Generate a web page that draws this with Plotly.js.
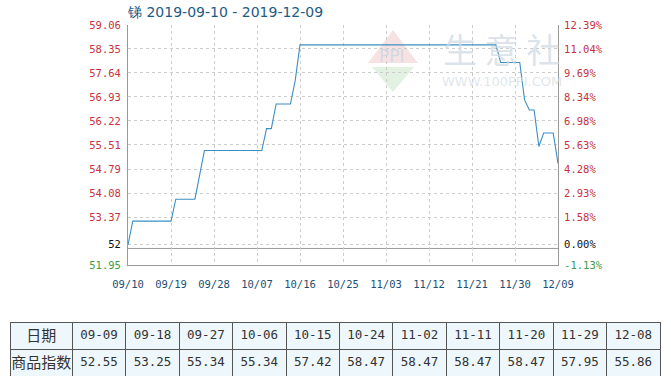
<!DOCTYPE html>
<html>
<head>
<meta charset="utf-8">
<script src="https://cdn.plot.ly/plotly-3.0.1.min.js"></script>
<style>html,body{margin:0;padding:0;background:#fff;}#chart{width:671px;height:385px;}</style>
</head>
<body>
<div id="chart"></div>
<script>
// ---- data ----
const dates = ['2019-09-10','2019-09-11','2019-09-19','2019-09-20','2019-09-24','2019-09-26','2019-10-08','2019-10-09','2019-10-10','2019-10-11','2019-10-14','2019-10-15','2019-10-16','2019-11-26','2019-11-27','2019-12-01','2019-12-02','2019-12-03','2019-12-04','2019-12-05','2019-12-06','2019-12-08','2019-12-09'];
const values = [52.55,53.25,53.25,53.90,53.90,55.34,55.34,55.99,55.99,56.72,56.72,57.42,58.47,58.47,57.95,57.95,56.84,56.54,56.54,55.46,55.86,55.86,54.96];
const xTickVals = ['2019-09-10','2019-09-19','2019-09-28','2019-10-07','2019-10-16','2019-10-25','2019-11-03','2019-11-12','2019-11-21','2019-11-30','2019-12-09'];
const xTickText = ['09/10','09/19','09/28','10/07','10/16','10/25','11/03','11/12','11/21','11/30','12/09'];
const yTickVals = [59.06,58.35,57.64,56.93,56.22,55.51,54.79,54.08,53.37,52.55,51.95];
const yTickText = ['59.06','58.35','57.64','56.93','56.22','55.51','54.79','54.08','53.37','52','51.95'];
const pctTickText = ['12.39%','11.04%','9.69%','8.34%','6.98%','5.63%','4.28%','2.93%','1.58%','0.00%','-1.13%'];
const tableDates = ['09-09','09-18','09-27','10-06','10-15','10-24','11-02','11-11','11-20','11-29','12-08'];
const tableValues = ['52.55','53.25','55.34','55.34','57.42','58.47','58.47','58.47','58.47','57.95','55.86'];
const titleText = '锑 2019-09-10 - 2019-12-09';
const rowLabels = ['日期','商品指数'];

// ---- styling helpers ----
const W = 671, H = 385;
const PL = 128, PR = 558, PT = 25, PB = 265;
function colorFor(i, n){ if(i === n-1) return '#3f9a3f'; if(i === n-2) return '#111111'; return '#c8323f'; }
const leftText = yTickText.map((t,i)=>'<span style="color:'+colorFor(i,yTickText.length)+'">'+t+'</span>');
const rightText = pctTickText.map((t,i)=>'<span style="color:'+colorFor(i,pctTickText.length)+'">'+t+'</span>');
const tickFont = {family:'DejaVu Sans Mono, monospace', size:10.5, color:'#c8323f'};
const yMin = 51.95, yMax = 59.06;
const cellFamilies = ['Noto Sans CJK SC, DejaVu Sans'].concat(tableDates.map(()=>'DejaVu Sans Mono, monospace'));

const traces = [
  {type:'scatter', mode:'lines', x:dates, y:values, line:{color:'#3d8fc2', width:1.1}, xaxis:'x', yaxis:'y', hoverinfo:'x+y', showlegend:false},
  {type:'scatter', mode:'lines', x:[dates[0]], y:[values[0]], xaxis:'x', yaxis:'y2', showlegend:false, hoverinfo:'skip', line:{color:'rgba(0,0,0,0)'}},
  {type:'table',
   domain:{x:[10/W, 661/W], y:[(H-376)/H, (H-322)/H]},
   columnwidth:[68].concat(tableDates.map(()=>58.3)),
   header:{values:[rowLabels[0]].concat(tableDates), height:27,
     fill:{color:'#eef7fb'}, line:{color:'#555555', width:1}, align:'center',
     font:{family:cellFamilies, size:[15].concat(tableDates.map(()=>12.5)), color:'#333333'}},
   cells:{values:[[rowLabels[1]]].concat(tableValues.map(v=>[v])), height:27,
     fill:{color:'#eef7fb'}, line:{color:'#555555', width:1}, align:'center',
     font:{family:cellFamilies, size:[15].concat(tableValues.map(()=>12.5)), color:'#333333'}}
  }
];

const layout = {
  width:W, height:H, margin:{l:0,r:0,t:0,b:0}, paper_bgcolor:'#ffffff', plot_bgcolor:'#ffffff',
  showlegend:false,
  title:{text:titleText, x:PL/W, xanchor:'left', y:1-12/H, yanchor:'middle', xref:'paper', yref:'paper',
         font:{family:'DejaVu Sans, sans-serif', size:14, color:'#1d5b86'}},
  xaxis:{type:'date', domain:[PL/W, PR/W], range:['2019-09-10','2019-12-09'], tickvals:xTickVals, ticktext:xTickText,
         showgrid:true, gridcolor:'#cccccc', griddash:'dot', gridwidth:1,
         showline:true, linecolor:'#999999', linewidth:1, zeroline:false,
         ticks:'outside', ticklen:9, tickcolor:'rgba(0,0,0,0)',
         tickfont:{family:'DejaVu Sans Mono, monospace', size:10.5, color:'#1d4f73'}, fixedrange:true, anchor:'y'},
  yaxis:{domain:[(H-PB)/H, (H-PT)/H], range:[yMin, yMax], tickvals:yTickVals, ticktext:leftText,
         showgrid:true, gridcolor:'#cccccc', griddash:'dot', gridwidth:1,
         showline:true, linecolor:'#999999', linewidth:1, zeroline:false,
         ticks:'outside', ticklen:4, tickcolor:'rgba(0,0,0,0)', tickfont:tickFont, anchor:'x'},
  yaxis2:{overlaying:'y', side:'right', range:[yMin, yMax], tickvals:yTickVals, ticktext:rightText,
         showgrid:false, showline:true, linecolor:'#999999', linewidth:1, zeroline:false,
         ticks:'outside', ticklen:3, tickcolor:'rgba(0,0,0,0)', tickfont:tickFont, anchor:'x'},
  shapes:[
    {type:'line', xref:'x domain', yref:'y', x0:0, x1:1, y0:52.44, y1:52.44, line:{color:'#999999', width:1}, layer:'below'},
    {type:'path', xref:'paper', yref:'paper', layer:'below', fillcolor:'rgba(236,190,190,0.45)', line:{width:0},
     path:'M '+(393/W)+' '+(1-30/H)+' L '+(418/W)+' '+(1-63/H)+' L '+(368/W)+' '+(1-63/H)+' Z'},
    {type:'path', xref:'paper', yref:'paper', layer:'below', fillcolor:'rgba(190,225,190,0.45)', line:{width:0},
     path:'M '+(372/W)+' '+(1-67/H)+' L '+(414/W)+' '+(1-67/H)+' L '+(393/W)+' '+(1-92/H)+' Z'}
  ],
  annotations:[
    {xref:'paper', yref:'paper', x:392/W, y:1-56/H, text:'PPI', showarrow:false, xanchor:'center', yanchor:'middle',
     font:{family:'DejaVu Sans, sans-serif', size:17, color:'rgba(205,215,228,0.9)'}},
    {xref:'paper', yref:'paper', x:502/W, y:1-49/H, text:'生 意 社', showarrow:false, xanchor:'center', yanchor:'middle',
     font:{family:'Noto Sans CJK SC, sans-serif', size:34, color:'rgba(210,218,228,0.75)'}},
    {xref:'paper', yref:'paper', x:502/W, y:1-82/H, text:'WWW.100PPI.COM', showarrow:false, xanchor:'center', yanchor:'middle',
     font:{family:'DejaVu Sans, sans-serif', size:13, color:'rgba(215,220,228,0.75)'}}
  ]
};

Plotly.newPlot('chart', traces, layout, {displayModeBar:false, staticPlot:true});
</script>
</body>
</html>
